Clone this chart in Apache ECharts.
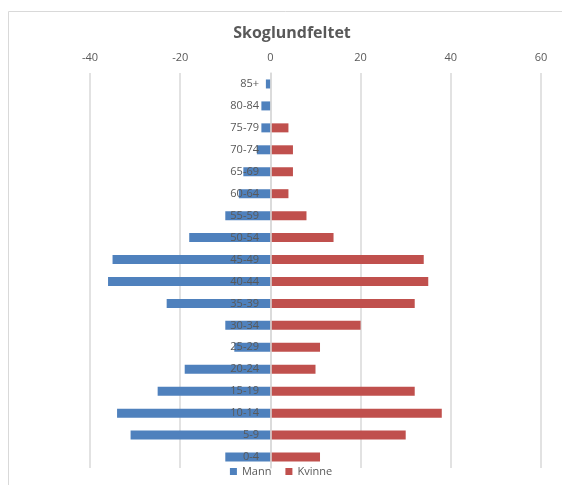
<!DOCTYPE html>
<html>
<head>
<meta charset="utf-8">
<script src="https://cdn.jsdelivr.net/npm/echarts@6/dist/echarts.min.js"></script>
<style>
  html, body { margin: 0; padding: 0; background: #fff; }
  #chart { width: 562px; height: 485px; }
</style>
</head>
<body>
<div id="chart"></div>
<script>
// age groups, bottom to top
const ageGroups = ['0-4', '5-9', '10-14', '15-19', '20-24', '25-29', '30-34', '35-39', '40-44',
  '45-49', '50-54', '55-59', '60-64', '65-69', '70-74', '75-79', '80-84', '85+'];
// men shown as negative numbers (left side)
const mann = [-10, -31, -34, -25, -19, -8, -10, -23, -36, -35, -18, -10, -7, -6, -3, -2, -2, -1];
const kvinne = [11, 30, 38, 32, 10, 11, 20, 32, 35, 34, 14, 8, 4, 5, 5, 4, 0, 0];
const xTicks = [-40, -20, 0, 20, 40, 60];

const chart = echarts.init(document.getElementById('chart'));

const option = {
  animation: false,
  textStyle: { fontFamily: 'Open Sans, Liberation Sans, sans-serif' },
  title: {
    text: 'Skoglundfeltet',
    left: 287,
    textAlign: 'center',
    top: 20,
    textStyle: { fontSize: 16, fontWeight: 'bold', color: '#595959' }
  },
  graphic: [{
    type: 'rect',
    shape: { x: 8.5, y: 11.5, width: 600, height: 520 },
    style: { fill: 'none', stroke: '#d9d9d9', lineWidth: 1 },
    silent: true
  }],
  legend: {
    bottom: 3,
    left: 'center',
    itemWidth: 7,
    itemHeight: 7,
    itemGap: 14,
    icon: 'rect',
    textStyle: { fontSize: 11, color: '#595959' },
    data: ['Mann', 'Kvinne']
  },
  grid: { left: 90, right: 21, top: 73, bottom: 17, containLabel: false },
  xAxis: {
    type: 'value',
    position: 'top',
    min: xTicks[0],
    max: xTicks[xTicks.length - 1],
    interval: 20,
    axisLine: { show: false },
    axisTick: { show: false },
    axisLabel: { color: '#595959', fontSize: 11, margin: 10 },
    splitLine: { lineStyle: { color: '#d9d9d9', width: 1.5 } }
  },
  yAxis: {
    type: 'category',
    data: ageGroups,
    offset: -180,
    axisLine: { show: true, lineStyle: { color: '#d9d9d9', width: 1.5 } },
    axisTick: { show: false },
    axisLabel: { color: '#595959', fontSize: 11, margin: 11 },
    z: 5
  },
  series: [
    {
      name: 'Mann',
      type: 'bar',
      data: mann,
      barWidth: 9,
      barGap: '-100%',
      itemStyle: { color: '#4f81bd' }
    },
    {
      name: 'Kvinne',
      type: 'bar',
      data: kvinne,
      barWidth: 9,
      itemStyle: { color: '#c0504d' }
    }
  ]
};

chart.setOption(option);
</script>
</body>
</html>
